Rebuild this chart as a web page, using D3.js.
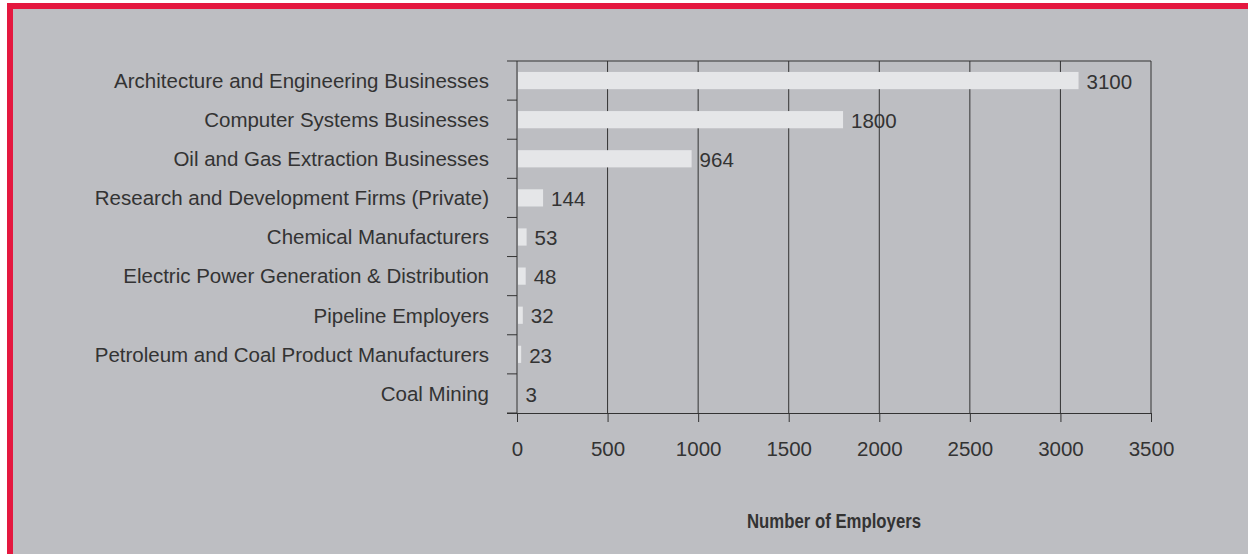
<!DOCTYPE html>
<html lang="en">
<head>
<meta charset="UTF-8">
<title>Number of Employers</title>
<script src="https://d3js.org/d3.v7.min.js"></script>
<style>
  body { margin: 0; background: #fff; }
  svg text { font-family: "Liberation Sans", Arial, sans-serif; fill: #333; }
</style>
</head>
<body>
<div id="chart"></div>
<script>
const categories = [
  "Architecture and Engineering Businesses",
  "Computer Systems Businesses",
  "Oil and Gas Extraction Businesses",
  "Research and Development Firms (Private)",
  "Chemical Manufacturers",
  "Electric Power Generation & Distribution",
  "Pipeline Employers",
  "Petroleum and Coal Product Manufacturers",
  "Coal Mining"
];
const employers = [3100, 1800, 964, 144, 53, 48, 32, 23, 3];
const xTicks = [0, 500, 1000, 1500, 2000, 2500, 3000, 3500];

const W = 1248, H = 554;
const plot = { left: 517, right: 1151, top: 61, bottom: 413 };

const svg = d3.select("#chart").append("svg")
  .attr("width", W).attr("height", H);

// red frame + grey panel
svg.append("rect").attr("x", 7).attr("y", 3).attr("width", W).attr("height", H)
  .attr("fill", "#e4183f");
svg.append("rect").attr("x", 13).attr("y", 9).attr("width", W).attr("height", H)
  .attr("fill", "#bdbec2");

const x = d3.scaleLinear().domain([0, 3500]).range([plot.left, plot.right]);
const y = d3.scaleBand().domain(categories).range([plot.top, plot.bottom]).paddingInner(0.56).paddingOuter(0.28);

// vertical grid lines
svg.append("g").selectAll("line")
  .data(xTicks.slice(1))
  .join("line")
  .attr("x1", d => x(d)).attr("x2", d => x(d))
  .attr("y1", plot.top).attr("y2", plot.bottom)
  .attr("stroke", "#333").attr("stroke-width", 1);

// top frame line
svg.append("line")
  .attr("x1", plot.left).attr("x2", plot.right)
  .attr("y1", plot.top).attr("y2", plot.top)
  .attr("stroke", "#333");

// bars
svg.append("g").selectAll("rect")
  .data(employers)
  .join("rect")
  .attr("x", x(0) + 1)
  .attr("y", (d, i) => y(categories[i]))
  .attr("width", d => Math.max(0, x(d) - x(0) - 1))
  .attr("height", y.bandwidth())
  .attr("fill", "#e5e6e8");

// value labels
svg.append("g").selectAll("text")
  .data(employers)
  .join("text")
  .attr("x", d => x(d) + 8)
  .attr("y", (d, i) => y(categories[i]) + y.bandwidth() / 2)
  .attr("dy", "0.4em")
  .style("font-size", "20.5px")
  .text(d => d);

// x axis
const xAxis = svg.append("g")
  .attr("transform", `translate(0,${plot.bottom})`)
  .call(d3.axisBottom(x).tickValues(xTicks).tickFormat(d3.format("d"))
    .tickSize(9).tickPadding(19).tickSizeOuter(0));
xAxis.select(".domain").attr("d", `M${plot.left - 10},0.5H${plot.right}`).attr("stroke", "#333");
xAxis.selectAll(".tick line").attr("stroke", "#333");
xAxis.selectAll(".tick text").style("font-size", "20.5px").attr("fill", "#333");

// y axis: boundary ticks + category labels
const bounds = d3.range(categories.length + 1).map(i => plot.top + i * (plot.bottom - plot.top) / categories.length);
svg.append("g").selectAll("line")
  .data(bounds)
  .join("line")
  .attr("x1", plot.left - 10).attr("x2", plot.left)
  .attr("y1", d => d).attr("y2", d => d)
  .attr("stroke", "#333");
svg.append("line")
  .attr("x1", plot.left).attr("x2", plot.left)
  .attr("y1", plot.top).attr("y2", plot.bottom)
  .attr("stroke", "#333");

svg.append("g").selectAll("text")
  .data(categories)
  .join("text")
  .attr("x", plot.left - 28)
  .attr("y", d => y(d) + y.bandwidth() / 2)
  .attr("dy", "0.36em")
  .attr("text-anchor", "end")
  .style("font-size", "20.5px")
  .text(d => d);

// axis title (condensed bold look)
svg.append("text")
  .attr("transform", `translate(${(plot.left + plot.right) / 2},528) scale(0.86,1)`)
  .attr("text-anchor", "middle")
  .style("font-weight", "bold")
  .style("font-size", "19.5px")
  .attr("fill", "#222")
  .text("Number of Employers");
</script>
</body>
</html>
